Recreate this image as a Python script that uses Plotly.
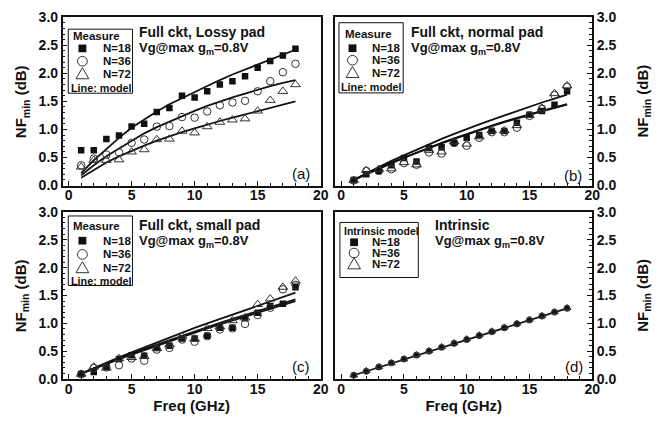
import plotly.graph_objects as go

freq = list(range(1, 19))

# Panel (a): Full ckt, Lossy pad
a_n18 = [0.63, 0.63, 0.83, 0.89, 1.05, 1.10, 1.31, 1.38, 1.60, 1.57, 1.68, 1.80, 1.86, 1.95, 2.10, 2.22, 2.32, 2.44]
a_n36 = [0.36, 0.48, 0.55, 0.59, 0.76, 0.82, 1.05, 1.06, 1.22, 1.21, 1.32, 1.43, 1.48, 1.51, 1.68, 1.86, 2.02, 2.17]
a_n72 = [0.33, 0.45, 0.45, 0.46, 0.60, 0.64, 0.82, 0.83, 0.97, 0.94, 1.05, 1.13, 1.17, 1.19, 1.33, 1.52, 1.68, 1.80]
a_m18 = [0.22, 0.45, 0.65, 0.85, 1.03, 1.18, 1.32, 1.45, 1.56, 1.67, 1.78, 1.88, 1.98, 2.07, 2.16, 2.25, 2.33, 2.42]
a_m36 = [0.18, 0.36, 0.52, 0.66, 0.80, 0.93, 1.04, 1.14, 1.24, 1.33, 1.42, 1.50, 1.57, 1.64, 1.71, 1.77, 1.83, 1.88]
a_m72 = [0.14, 0.28, 0.41, 0.52, 0.62, 0.71, 0.80, 0.88, 0.95, 1.02, 1.09, 1.15, 1.21, 1.27, 1.33, 1.38, 1.44, 1.50]

# Panel (b): Full ckt, normal pad
b_n18 = [0.10, 0.20, 0.26, 0.36, 0.49, 0.43, 0.67, 0.68, 0.76, 0.85, 0.90, 0.97, 0.97, 1.12, 1.26, 1.33, 1.44, 1.68]
b_n36 = [0.09, 0.26, 0.26, 0.29, 0.40, 0.37, 0.59, 0.57, 0.76, 0.71, 0.85, 0.95, 0.95, 1.03, 1.24, 1.37, 1.61, 1.76]
b_n72 = [0.09, 0.27, 0.29, 0.30, 0.41, 0.37, 0.63, 0.60, 0.78, 0.74, 0.87, 0.98, 0.98, 1.07, 1.25, 1.38, 1.64, 1.78]
b_m18 = [0.10, 0.20, 0.30, 0.40, 0.49, 0.58, 0.67, 0.75, 0.83, 0.91, 0.98, 1.06, 1.13, 1.20, 1.26, 1.32, 1.38, 1.44]
b_m36 = [0.10, 0.22, 0.33, 0.44, 0.54, 0.64, 0.74, 0.83, 0.92, 1.01, 1.09, 1.17, 1.25, 1.33, 1.40, 1.48, 1.55, 1.62]
b_m72 = [0.10, 0.21, 0.31, 0.41, 0.50, 0.59, 0.68, 0.76, 0.84, 0.92, 0.99, 1.07, 1.14, 1.21, 1.27, 1.33, 1.39, 1.45]

# Panel (c): Full ckt, small pad
c_n18 = [0.09, 0.13, 0.22, 0.36, 0.43, 0.42, 0.56, 0.60, 0.73, 0.73, 0.78, 0.92, 0.92, 1.09, 1.19, 1.31, 1.35, 1.65]
c_n36 = [0.09, 0.20, 0.21, 0.25, 0.37, 0.33, 0.53, 0.56, 0.71, 0.67, 0.77, 0.89, 0.91, 0.99, 1.15, 1.28, 1.61, 1.69]
c_n72 = [0.09, 0.22, 0.20, 0.37, 0.39, 0.41, 0.55, 0.62, 0.77, 0.72, 0.91, 0.94, 1.05, 1.10, 1.34, 1.44, 1.65, 1.76]
c_m18 = [0.10, 0.19, 0.28, 0.36, 0.44, 0.52, 0.60, 0.68, 0.76, 0.83, 0.91, 0.98, 1.05, 1.12, 1.19, 1.26, 1.33, 1.40]
c_m36 = [0.10, 0.20, 0.30, 0.39, 0.48, 0.57, 0.66, 0.75, 0.84, 0.92, 1.00, 1.08, 1.16, 1.24, 1.32, 1.40, 1.47, 1.55]
c_m72 = [0.10, 0.19, 0.28, 0.37, 0.45, 0.54, 0.62, 0.70, 0.78, 0.86, 0.93, 1.01, 1.08, 1.15, 1.22, 1.29, 1.36, 1.43]

# Panel (d): Intrinsic
d_n18 = [0.07, 0.14, 0.21, 0.29, 0.36, 0.43, 0.50, 0.57, 0.64, 0.71, 0.78, 0.85, 0.92, 0.99, 1.06, 1.13, 1.20, 1.27]
d_n36 = [0.07, 0.14, 0.22, 0.29, 0.36, 0.43, 0.50, 0.57, 0.64, 0.71, 0.78, 0.85, 0.92, 0.99, 1.06, 1.13, 1.20, 1.27]
d_n72 = [0.07, 0.15, 0.22, 0.29, 0.36, 0.44, 0.51, 0.58, 0.65, 0.72, 0.79, 0.86, 0.93, 1.00, 1.07, 1.14, 1.21, 1.28]
d_model = [0.07, 0.14, 0.21, 0.29, 0.36, 0.43, 0.50, 0.57, 0.64, 0.71, 0.78, 0.85, 0.92, 0.99, 1.06, 1.13, 1.20, 1.27]

titles = [("Full ckt, Lossy pad", "(a)"), ("Full ckt, normal pad", "(b)"),
          ("Full ckt, small pad", "(c)"), ("Intrinsic", "(d)")]
legend_titles = ["Measure", "Measure", "Measure", "Intrinsic model"]
series_labels = ["N=18", "N=36", "N=72"]

# page body has an 8px margin; figure is sized to fill the rest of the window
OFF = 8
W, H = 671 - OFF, 423 - OFF
def PX(x): return (x - OFF) / W
def PY(y): return 1 - (y - OFF) / H

FONT = "Liberation Sans, Arial, sans-serif"
INK = "#111111"

fig = go.Figure()

panels = [
    ([a_n18, a_n36, a_n72], [a_m18, a_m36, a_m72]),
    ([b_n18, b_n36, b_n72], [b_m18, b_m36, b_m72]),
    ([c_n18, c_n36, c_n72], [c_m18, c_m36, c_m72]),
    ([d_n18, d_n36, d_n72], [d_model]),
]

def marker_set(scale):
    return [dict(symbol="square", size=6.5 * scale, color=INK, line=dict(width=0)),
            dict(symbol="circle-open", size=7.5 * scale, color="#333333", line=dict(width=1)),
            dict(symbol="triangle-up-open", size=8.5 * scale, color="#333333", line=dict(width=1))]

for i, (meas, models) in enumerate(panels):
    ax = "" if i == 0 else str(i + 1)
    for m in models:
        fig.add_trace(go.Scatter(x=freq, y=m, mode="lines", line=dict(color=INK, width=1.8),
                                 xaxis="x" + ax, yaxis="y" + ax, showlegend=False))
    mks = marker_set(0.8 if i == 3 else 1.0)
    for s, mk, lab in zip(meas, mks, series_labels):
        fig.add_trace(go.Scatter(x=freq, y=s, mode="markers", marker=mk, name=lab,
                                 xaxis="x" + ax, yaxis="y" + ax, showlegend=False))

# frame geometry in window pixels
frames = [
    (63.3, 324.5, 9.3, 184.3),
    (339.3, 599.3, 9.3, 184.3),
    (63.3, 324.5, 211.7, 385.7),
    (339.3, 599.3, 211.7, 385.7),
]

tickfont = dict(family=FONT, size=14, color=INK, weight="bold")
layout = dict(width=W, height=H, margin=dict(l=0, r=0, t=0, b=0),
              plot_bgcolor="white", paper_bgcolor="white", showlegend=False)

for i, (x0, x1, y0, y1) in enumerate(frames):
    ax = "" if i == 0 else str(i + 1)
    right = i in (1, 3)
    bottom = i in (2, 3)
    layout["xaxis" + ax] = dict(
        domain=[PX(x0), PX(x1)], range=[-0.47, 20], anchor="y" + ax,
        showline=True, linecolor=INK, linewidth=1.5, mirror=True,
        ticks="inside", ticklen=5, tickwidth=1, tickcolor=INK, dtick=5, tick0=0,
        minor=dict(ticks="inside", ticklen=3, dtick=1, tick0=0, tickcolor=INK),
        showgrid=False, zeroline=False, tickfont=tickfont, ticklabelstandoff=-4,
        title=dict(text="Freq (GHz)" if bottom else "", font=dict(family=FONT, size=15, color=INK, weight="bold"), standoff=0),
    )
    layout["yaxis" + ax] = dict(
        domain=[PY(y1), PY(y0)], range=[0, 3], anchor="x" + ax,
        side="right" if right else "left",
        showline=True, linecolor=INK, linewidth=1.5, mirror=True,
        ticks="inside", ticklen=5, tickwidth=1, tickcolor=INK, dtick=0.5, tick0=0,
        tickformat=".1f",
        minor=dict(ticks="inside", ticklen=3, dtick=0.1, tick0=0, tickcolor=INK),
        showgrid=False, zeroline=False, tickfont=tickfont,
    )

annotations = []
shapes = []
bold = lambda s: dict(family=FONT, size=s, color=INK, weight="bold")

# y-axis titles
for (x, yc) in [(22, 96.8), (22, 298.7), (651, 96.8), (651, 298.7)]:
    annotations.append(dict(x=PX(x), y=PY(yc), xref="paper", yref="paper", text="NF<sub>min</sub> (dB)",
                            textangle=-90, showarrow=False, font=bold(15), xanchor="center", yanchor="middle"))

# panel texts
text_pos = [(139, 25, 41.5), (414, 25, 41.5), (139, 225.5, 242.5), (438, 225, 242.5)]
label_pos = [(305, 172), (580, 174), (305, 373), (580.5, 373)]
for i, ((tx, ty1, ty2), (lx, ly)) in enumerate(zip(text_pos, label_pos)):
    annotations.append(dict(x=PX(tx), y=PY(ty1), xref="paper", yref="paper", text=titles[i][0],
                            showarrow=False, font=bold(14), xanchor="left", yanchor="middle"))
    annotations.append(dict(x=PX(tx), y=PY(ty2), xref="paper", yref="paper",
                            text="Vg@max g<sub>m</sub>=0.8V",
                            showarrow=False, font=bold(13), xanchor="left", yanchor="middle"))
    annotations.append(dict(x=PX(lx), y=PY(ly), xref="paper", yref="paper", text=titles[i][1],
                            showarrow=False, font=dict(family=FONT, size=15, color=INK), xanchor="center", yanchor="middle"))

# legend boxes: (box x0, x1, y0, y1, title x, title y, symbol x, label x, row ys, line-text y)
legends = [
    (69, 134, 21.7, 88.3, 72, 28.5, 83.3, 102, [41.7, 55, 68.3], 83),
    (343, 408, 15, 88, 347, 26.7, 356.7, 374, [41.5, 54, 67], 81.5),
    (69, 134, 216, 288.3, 72, 226.7, 83.3, 102, [241.7, 256, 270], 283.3),
    (344, 423.3, 222.7, 280, 346, 231.7, 358.3, 374, [243.3, 254.5, 266], None),
]
for i, (bx0, bx1, by0, by1, tx, ty, sx, lx, rows, ly) in enumerate(legends):
    shapes.append(dict(type="rect", xref="paper", yref="paper", x0=PX(bx0), x1=PX(bx1), y0=PY(by1), y1=PY(by0),
                       line=dict(color=INK, width=1), fillcolor="white", layer="above"))
    annotations.append(dict(x=PX(tx), y=PY(ty), xref="paper", yref="paper", text=legend_titles[i],
                            showarrow=False, font=bold(10.5 if i == 3 else 11.5), xanchor="left", yanchor="middle"))
    for r, (ry, lab) in enumerate(zip(rows, series_labels)):
        annotations.append(dict(x=PX(lx), y=PY(ry), xref="paper", yref="paper", text=lab,
                                showarrow=False, font=bold(11.5), xanchor="left", yanchor="middle"))
        if r == 0:
            shapes.append(dict(type="rect", xref="paper", yref="paper", x0=PX(sx - 4), x1=PX(sx + 4),
                               y0=PY(ry + 4), y1=PY(ry - 4), fillcolor=INK, line=dict(width=0), layer="above"))
        elif r == 1:
            shapes.append(dict(type="circle", xref="paper", yref="paper", x0=PX(sx - 5), x1=PX(sx + 5),
                               y0=PY(ry + 5), y1=PY(ry - 5), line=dict(color="#333333", width=1), layer="above"))
        else:
            path = "M {} {} L {} {} L {} {} Z".format(PX(sx - 6.5), PY(ry + 5), PX(sx + 6.5), PY(ry + 5), PX(sx), PY(ry - 6.5))
            shapes.append(dict(type="path", xref="paper", yref="paper", path=path,
                               line=dict(color="#333333", width=1), layer="above"))
    if ly is not None:
        annotations.append(dict(x=PX(bx0 + 0.5), y=PY(ly), xref="paper", yref="paper", text="Line: model",
                                showarrow=False, font=bold(10.8), xanchor="left", yanchor="middle"))

layout["annotations"] = annotations
layout["shapes"] = shapes
fig.update_layout(**layout)
fig.write_html("out.html")
